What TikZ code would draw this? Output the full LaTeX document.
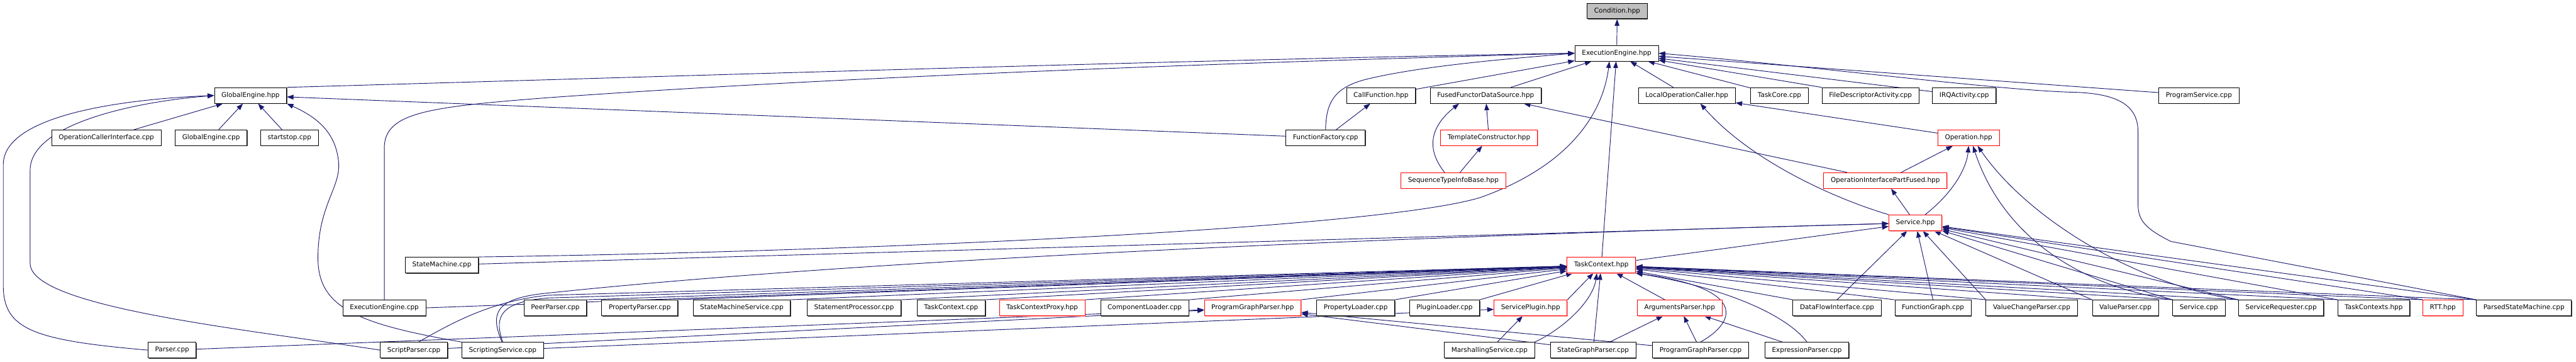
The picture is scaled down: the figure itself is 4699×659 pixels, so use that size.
\documentclass[tikz,border=0pt]{standalone}
\usepackage{fontspec}
\setmainfont{DejaVu Sans}
\usetikzlibrary{arrows.meta,shadows,backgrounds}
\definecolor{edgeblue}{HTML}{191970}

\begin{document}
\begin{tikzpicture}[x=0.75pt,y=-0.75pt,
  box/.style={draw,fill=white,line width=0.75pt,inner xsep=9.6pt,inner ysep=0pt,minimum height=21.5pt,font=\fontsize{9}{11}\selectfont},
  file/.style={box,drop shadow={shadow xshift=1pt,shadow yshift=-1pt,fill=black!70,opacity=1}},
  trunc/.style={box,draw=red,drop shadow={shadow xshift=1pt,shadow yshift=-1pt,fill=red!35,opacity=1}},
  root/.style={file,fill=black!25},
  dep/.style={draw=edgeblue,line width=0.8pt,-{Triangle[length=9pt,width=6.5pt]}}]
\begin{scope}[on background layer]
\fill[white] (0,0) rectangle (4699,659);
\end{scope}
\useasboundingbox (0,0) rectangle (4699,659);

\node[root] (condh) at (2950,20) {Condition.hpp};
\node[file] (eeh) at (2949,97) {ExecutionEngine.hpp};

\node[file] (geh) at (457,174) {GlobalEngine.hpp};
\node[file] (cfh) at (2519,174) {CallFunction.hpp};
\node[file] (ffds) at (2710,174) {FusedFunctorDataSource.hpp};
\node[file] (loch) at (3077,174) {LocalOperationCaller.hpp};
\node[file] (tccpp) at (3246,174) {TaskCore.cpp};
\node[file] (fdacpp) at (3412,174) {FileDescriptorActivity.cpp};
\node[file] (irqcpp) at (3583,174) {IRQActivity.cpp};
\node[file] (pscpp) at (4011,174) {ProgramService.cpp};

\node[file] (occpp) at (194,251) {OperationCallerInterface.cpp};
\node[file] (gecpp) at (385,251) {GlobalEngine.cpp};
\node[file] (ststcpp) at (528,251) {startstop.cpp};
\node[file] (ffcpp) at (2418,251) {FunctionFactory.cpp};
\node[trunc] (tmplh) at (2716,251) {TemplateConstructor.hpp};
\node[trunc] (oph) at (3591,251) {Operation.hpp};

\node[trunc] (stib) at (2651,329) {SequenceTypeInfoBase.hpp};
\node[trunc] (oipf) at (3439,329) {OperationInterfacePartFused.hpp};

\node[trunc] (svch) at (3494,406) {Service.hpp};

\node[file] (smcpp) at (806,483) {StateMachine.cpp};
\node[trunc] (tch) at (2921,483) {TaskContext.hpp};

\node[file] (eecpp) at (701,561) {ExecutionEngine.cpp};
\node[file] (peercpp) at (1013,561) {PeerParser.cpp};
\node[file] (ppcpp) at (1167,561) {PropertyParser.cpp};
\node[file] (smscpp) at (1353,561) {StateMachineService.cpp};
\node[file] (stpcpp) at (1558,561) {StatementProcessor.cpp};
\node[file] (tctxcpp) at (1735,561) {TaskContext.cpp};
\node[trunc] (proxyh) at (1901,561) {TaskContextProxy.hpp};
\node[file] (clcpp) at (2088,561) {ComponentLoader.cpp};
\node[trunc] (pgph) at (2285,561) {ProgramGraphParser.hpp};
\node[file] (plcpp) at (2473,561) {PropertyLoader.cpp};
\node[file] (pluginl) at (2635,561) {PluginLoader.cpp};
\node[trunc] (sph) at (2792,561) {ServicePlugin.hpp};
\node[trunc] (aph) at (3064,561) {ArgumentsParser.hpp};
\node[file] (dficpp) at (3351,561) {DataFlowInterface.cpp};
\node[file] (fgcpp) at (3526,561) {FunctionGraph.cpp};
\node[file] (vcpcpp) at (3706,561) {ValueChangeParser.cpp};
\node[file] (vpcpp) at (3877,561) {ValueParser.cpp};
\node[file] (svccpp) at (4011,561) {Service.cpp};
\node[file] (srcpp) at (4161,561) {ServiceRequester.cpp};
\node[file] (tcsh) at (4330,561) {TaskContexts.hpp};
\node[trunc] (rtth) at (4456,561) {RTT.hpp};
\node[file] (psmcpp) at (4604,561) {ParsedStateMachine.cpp};

\node[file] (parcpp) at (314,638) {Parser.cpp};
\node[file] (spcpp) at (755,638) {ScriptParser.cpp};
\node[file] (scsvcpp) at (917,638) {ScriptingService.cpp};
\node[file] (mscpp) at (2717,638) {MarshallingService.cpp};
\node[file] (sgpcpp) at (2906,638) {StateGraphParser.cpp};
\node[file] (pgpcpp) at (3102,638) {ProgramGraphParser.cpp};
\node[file] (epcpp) at (3296,638) {ExpressionParser.cpp};

\begin{scope}[on background layer]
\draw[dep] (eeh) -- (condh);

\draw[dep] (geh.north east) .. controls (1200,140) and (2200,108) .. (eeh.west);
\draw[dep] (eecpp.north) -- (701,270) .. controls (701,205) and (780,195) .. (1000,178) .. controls (1600,135) and (2400,110) .. (eeh.west);
\draw[dep] (ffcpp.north) .. controls (2419,185) and (2435,160) .. (2490,145) .. controls (2600,118) and (2780,105) .. (eeh.west);
\draw[dep] (smcpp.north east) .. controls (1500,460) and (2500,420) .. (2700,360) .. controls (2870,300) and (2925,200) .. ([xshift=-10pt]eeh.south);
\draw[dep] (psmcpp.north west) -- (3960,440) .. controls (3910,415) and (3900,400) .. (3900,370) -- (3900,240) .. controls (3900,190) and (3860,170) .. (3780,168) .. controls (3650,165) and (3300,120) .. (eeh.east);
\foreach \n in {cfh,ffds,tch,loch,tccpp,fdacpp,irqcpp,pscpp}
  \draw[dep] (\n) -- (eeh);

\foreach \n in {occpp,gecpp,ststcpp,ffcpp}
  \draw[dep] (\n) -- (geh);
\draw[dep] (parcpp.west) .. controls (60,620) and (6,600) .. (6,520) -- (6,300) .. controls (6,215) and (200,182) .. (geh.west);
\draw[dep] (spcpp.west) .. controls (450,600) and (55,560) .. (55,480) -- (55,310) .. controls (55,225) and (250,185) .. (geh.west);
\draw[dep] (scsvcpp.north west) .. controls (650,590) and (580,560) .. (580,470) .. controls (580,370) and (625,340) .. (617,290) .. controls (610,235) and (570,210) .. (geh.south east);

\draw[dep] (ffcpp) -- (cfh);
\draw[dep] (tmplh) -- (ffds);
\draw[dep] (stib.137) .. controls (2600,270) and (2610,230) .. (ffds.197);
\draw[dep] (stib) -- (tmplh);
\draw[dep] (oipf) -- (ffds);

\draw[dep] (oph) -- (loch);
\draw[dep] (svch.north west) .. controls (3340,360) and (3190,290) .. (loch.-31);
\draw[dep] (oipf) -- (oph);
\draw[dep] (svch.40) .. controls (3570,345) and (3588,300) .. (oph.south);
\draw[dep] (svccpp.north west) .. controls (3780,520) and (3650,420) .. (oph.-62);
\draw[dep] (srcpp.north west) .. controls (3900,520) and (3700,400) .. (oph.-42);
\draw[dep] (svch) -- (oipf);

\draw[dep] (smcpp) -- (svch);
\draw[dep] (scsvcpp.95) .. controls (893,570) and (905,545) .. (990,535) .. controls (1600,470) and (2600,430) .. (svch);
\draw[dep] (tch) -- (svch);
\foreach \n in {dficpp,fgcpp}
  \draw[dep] (\n.north) -- (svch);
\foreach \n in {vcpcpp,vpcpp,svccpp,srcpp,tcsh,rtth,psmcpp}
  \draw[dep] (\n.north west) -- (svch);

\draw[dep] (spcpp.60) .. controls (830,585) and (900,548) .. (1000,538) -- (tch);
\draw[dep] (scsvcpp.north) .. controls (900,575) and (915,550) .. (1000,543) -- (tch);
\draw[dep] (eecpp.east) -- (tch);
\foreach \n in {peercpp,ppcpp,smscpp,stpcpp,tctxcpp,proxyh,clcpp,pgph,plcpp,pluginl,sph}
  \draw[dep] (\n.north east) -- (tch);
\foreach \n in {aph,sgpcpp}
  \draw[dep] (\n) -- (tch);
\foreach \n in {dficpp,fgcpp,vcpcpp,vpcpp,svccpp,srcpp,tcsh,rtth,psmcpp}
  \draw[dep] (\n.north west) -- (tch);
\draw[dep] (mscpp.north east) .. controls (2850,600) and (2905,550) .. ([xshift=-6pt]tch.south);
\draw[dep] (pgpcpp.north) .. controls (3170,585) and (3185,525) .. (tch.south east);
\draw[dep] (epcpp.north) .. controls (3260,575) and (3150,525) .. (tch.south east);

\foreach \n in {parcpp,spcpp,sgpcpp,pgpcpp}
  \draw[dep] (\n) -- (pgph);
\foreach \n in {scsvcpp,mscpp}
  \draw[dep] (\n) -- (sph);
\foreach \n in {sgpcpp,pgpcpp,epcpp}
  \draw[dep] (\n) -- (aph);
\end{scope}
\end{tikzpicture}
\end{document}
